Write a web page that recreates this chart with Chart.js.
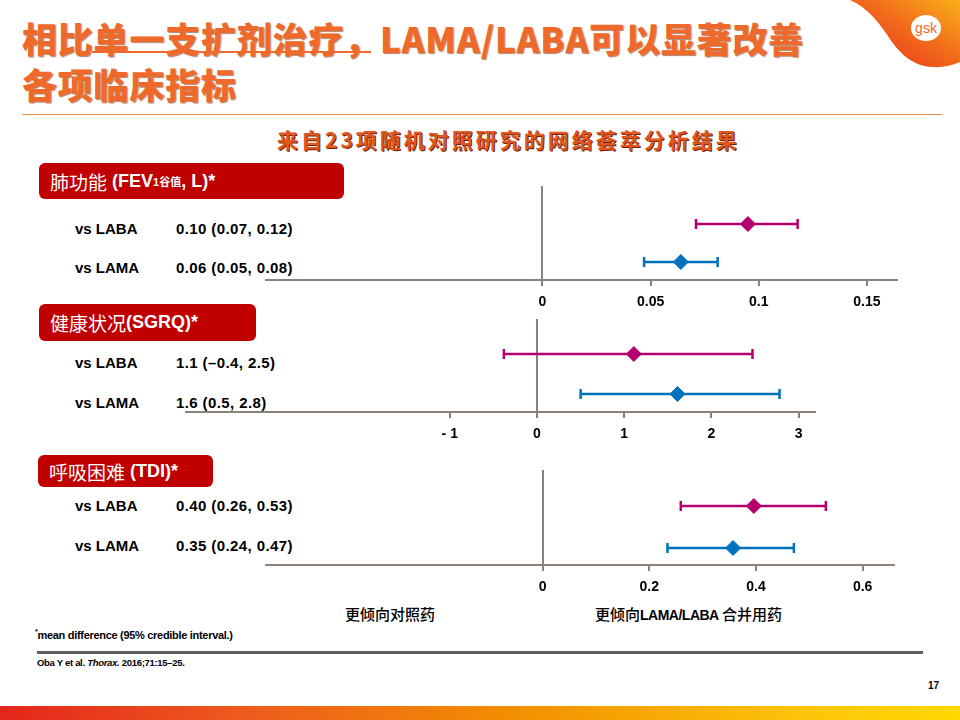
<!DOCTYPE html>
<html>
<head>
<meta charset="utf-8">
<script src="https://cdn.jsdelivr.net/npm/chart.js@4.4.0/dist/chart.umd.min.js"></script>
<style>
  body { margin:0; width:960px; height:720px; position:relative; overflow:hidden; background:#fff;
         font-family:'Liberation Sans','Noto Sans CJK SC',sans-serif; }
  .abs { position:absolute; white-space:nowrap; }
  .title { left:22px; top:15px; font-family:'Noto Sans CJK SC'; font-weight:900; font-size:35px; line-height:46px;
           letter-spacing:0.8px; color:#EF6A2A; text-shadow:1px 1px 1px rgba(110,35,0,0.55); }
  .sub { left:277px; top:126px; font-family:'Noto Sans CJK SC'; font-weight:bold; font-size:21px; line-height:26px;
         letter-spacing:3px; color:#E0561E; text-shadow:1px 1px 0 #6b2208; }
  .hdr { background:#C00000; border-radius:6px; color:#fff; font-size:18px; font-weight:bold; box-sizing:border-box;
         padding-left:11px; display:flex; align-items:center; }
  .hdr .cjk { font-family:'Noto Sans CJK SC'; font-weight:normal; font-size:19px; }
  .hdr sub { font-size:11px; font-weight:bold; vertical-align:-4px; }
  .row { font-size:15px; font-weight:bold; color:#000; line-height:17px; }
  .row.val { letter-spacing:0.4px; }
  canvas { position:absolute; }
  .fav { font-family:'Noto Sans CJK SC'; font-size:15px; line-height:18px; color:#000; font-weight:500; }
  .fav b { font-family:'Liberation Sans'; font-size:14px; letter-spacing:-0.5px; }
</style>
</head>
<body>

<div class="abs title">相比单一支扩剂治疗，LAMA/LABA可以显著改善<br>各项临床指标</div>
<div class="abs" style="left:92px; top:51px; width:279px; height:2px; background:#EF6A2A;"></div>
<div class="abs" style="left:22px; top:114px; width:920px; height:1px; background:#F08A3C;"></div>
<div class="abs sub">来自23项随机对照研究的网络荟萃分析结果</div>

<svg class="abs" style="left:0; top:0;" width="960" height="80">
  <defs>
    <linearGradient id="gsk" x1="0" y1="1" x2="1" y2="0">
      <stop offset="0" stop-color="#E4281C"/>
      <stop offset="0.55" stop-color="#F26A1B"/>
      <stop offset="1" stop-color="#F9B01A"/>
    </linearGradient>
  </defs>
  <path d="M850,0 C868,8 878,22 888,36 C898,52 912,66 932,67 C945,68 955,64 960,62 L960,0 Z" fill="url(#gsk)"/>
  <ellipse cx="926" cy="28" rx="15" ry="13" fill="#fff"/>
  <text x="926" y="33" text-anchor="middle" font-family="Liberation Sans" font-size="14" fill="#F06A1E">gsk</text>
</svg>

<div class="abs hdr" style="left:39px; top:163px; width:305px; height:36px;">
  <span class="cjk">肺功能</span>&nbsp;(FEV<sub>1谷值</sub>, L)*</div>
<div class="abs hdr" style="left:39px; top:304px; width:217px; height:37px;">
  <span class="cjk">健康状况</span>(SGRQ)*</div>
<div class="abs hdr" style="left:38px; top:455px; width:175px; height:32px;">
  <span class="cjk">呼吸困难</span>&nbsp;(TDI)*</div>

<div id="rows"></div>

<canvas id="fevChart" width="633" height="124" style="left:265px; top:186px;"></canvas>
<canvas id="sgrqChart" width="631" height="123" style="left:185px; top:319px;"></canvas>
<canvas id="tdiChart" width="630" height="125" style="left:265px; top:470px;"></canvas>

<div class="abs fav" style="left:345px; top:605px;">更倾向对照药</div>
<div class="abs fav" style="left:595px; top:605px;">更倾向<b>LAMA/LABA</b> 合并用药</div>

<div class="abs" style="left:35px; top:628px; font-size:11px; font-weight:bold; letter-spacing:-0.3px;"><sup style="font-size:7px;">*</sup>mean difference (95% credible interval.)</div>
<div class="abs" style="left:37px; top:651px; width:886px; height:3px; background:#5E5E5E;"></div>
<div class="abs" style="left:37px; top:657px; font-size:9.5px; font-weight:bold; letter-spacing:-0.3px;">Oba Y et al. <i>Thorax.</i> 2016;71:15–25.</div>
<div class="abs" style="left:928px; top:680px; font-size:10px; font-weight:bold;">17</div>
<div class="abs" style="left:0; top:706px; width:960px; height:14px;
     background:linear-gradient(to right,#E4261C 0%,#EE5A1E 25%,#F39200 55%,#FDC60A 85%,#FFD800 100%);"></div>

<script>
// rows in each panel
const rowNames = ['vs LABA', 'vs LAMA'];

// 肺功能 (FEV1 trough, L)
const fevMean = [0.095, 0.064];
const fevLow = [0.071, 0.047];
const fevHigh = [0.118, 0.081];
const fevText = ['0.10 (0.07, 0.12)', '0.06 (0.05, 0.08)'];
const fevTicks = [0, 0.05, 0.1, 0.15];
const fevTickLabels = ['0', '0.05', '0.1', '0.15'];

// 健康状况 (SGRQ)
const sgrqMean = [1.11, 1.61];
const sgrqLow = [-0.38, 0.5];
const sgrqHigh = [2.47, 2.78];
const sgrqText = ['1.1 (\u20130.4, 2.5)', '1.6 (0.5, 2.8)'];
const sgrqTicks = [-1, 0, 1, 2, 3];
const sgrqTickLabels = ['- 1', '0', '1', '2', '3'];

// 呼吸困难 (TDI)
const tdiMean = [0.396, 0.357];
const tdiLow = [0.259, 0.234];
const tdiHigh = [0.531, 0.471];
const tdiText = ['0.40 (0.26, 0.53)', '0.35 (0.24, 0.47)'];
const tdiTicks = [0, 0.2, 0.4, 0.6];
const tdiTickLabels = ['0', '0.2', '0.4', '0.6'];

const seriesColors = ['#B4006F', '#0071BC'];
const axisColor = '#8C8279';

// text rows left of each chart
const rowsDiv = document.getElementById('rows');
function addRowText(texts, tops) {
  texts.forEach((t, i) => {
    rowsDiv.insertAdjacentHTML('beforeend',
      `<div class="abs row" style="left:75px; top:${tops[i]}px;">${rowNames[i]}</div>` +
      `<div class="abs row val" style="left:176px; top:${tops[i]}px;">${t}</div>`);
  });
}
addRowText(fevText, [220, 259]);
addRowText(sgrqText, [354, 394]);
addRowText(tdiText, [497, 537]);

function drawPanel(id, mean, low, high, ticks, tickLabels, xMin, xMax, yMin, yMax) {
  const n = rowNames.length;
  const datasets = [{
    data: mean.map((v, i) => ({x: v, y: n - i})),
    pointStyle: 'rectRot',
    pointRadius: 7.5,
    pointBackgroundColor: seriesColors,
    pointBorderColor: seriesColors,
    pointBorderWidth: 1
  }];
  rowNames.forEach((name, i) => {
    datasets.push({
      data: [{x: low[i], y: n - i}, {x: high[i], y: n - i}],
      showLine: true,
      borderColor: seriesColors[i],
      borderWidth: 2.5,
      pointStyle: 'line',
      pointRotation: 90,
      pointRadius: 5,
      pointBorderColor: seriesColors[i],
      pointBorderWidth: 2.5
    });
  });

  return new Chart(document.getElementById(id), {
    type: 'scatter',
    data: {datasets: datasets},
    options: {
      responsive: false,
      animation: false,
      layout: {padding: 0, autoPadding: false},
      plugins: {legend: {display: false}, tooltip: {enabled: false}},
      scales: {
        x: {
          type: 'linear',
          min: xMin,
          max: xMax,
          afterBuildTicks: scale => { scale.ticks = ticks.map(v => ({value: v})); },
          afterFit: scale => { scale.height = 30; scale.paddingLeft = 0; scale.paddingRight = 0; },
          grid: {
            drawOnChartArea: true,
            color: c => (c.tick && c.tick.value === 0) ? axisColor : 'rgba(0,0,0,0)',
            lineWidth: 2,
            tickColor: axisColor,
            tickLength: 6,
            tickWidth: 2
          },
          border: {display: true, color: axisColor, width: 2},
          ticks: {
            callback: (v, i) => tickLabels[i],
            color: '#000',
            padding: 8,
            maxRotation: 0,
            font: {family: 'Liberation Sans', size: 14, weight: 'bold'}
          }
        },
        y: {type: 'linear', display: false, min: yMin, max: yMax}
      }
    }
  });
}

drawPanel('fevChart', fevMean, fevLow, fevHigh, fevTicks, fevTickLabels, -0.1283, 0.1644, 0.526, 3.0);
drawPanel('sgrqChart', sgrqMean, sgrqLow, sgrqHigh, sgrqTicks, sgrqTickLabels, -4.035, 3.198, 0.55, 2.875);
drawPanel('tdiChart', tdiMean, tdiLow, tdiHigh, tdiTicks, tdiTickLabels, -0.5205, 0.6606, 0.595, 2.857);
</script>
</body>
</html>
